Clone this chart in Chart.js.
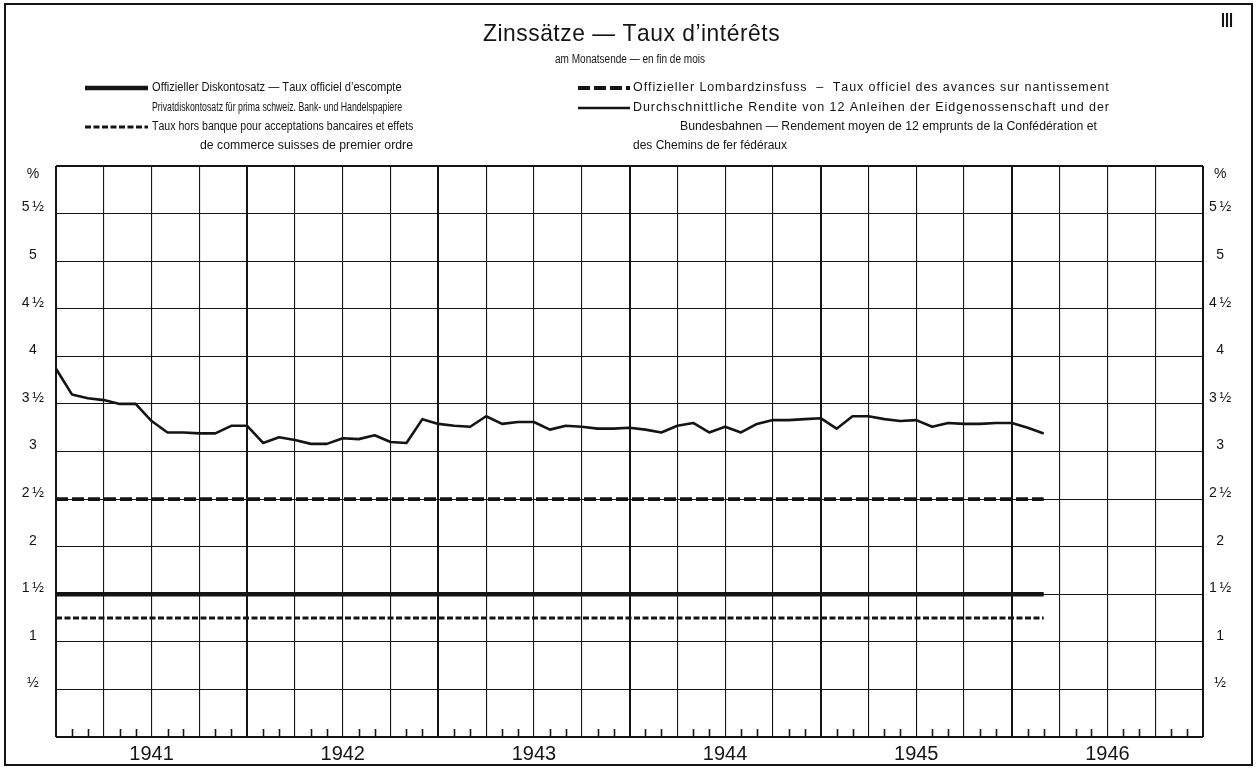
<!DOCTYPE html>
<html><head><meta charset="utf-8">
<script src="https://cdn.jsdelivr.net/npm/chart.js@4.4.1/dist/chart.umd.min.js"></script>
<style>html,body{margin:0;padding:0;background:#fff;}#wrap{width:1260px;height:769px;position:relative;}</style>
</head><body><div id="wrap"><canvas id="c" width="1260" height="769"></canvas></div>
<script>
// ---- data ----
const years = ['1941', '1942', '1943', '1944', '1945', '1946'];
const monthNames = ['Jan', 'Feb', 'Mär', 'Apr', 'Mai', 'Jun', 'Jul', 'Aug', 'Sep', 'Okt', 'Nov', 'Dez'];
// month ends from Dec 1940 to Dec 1946
const months = ['Dez 1940'];
years.forEach(y => monthNames.forEach(m => months.push(m + ' ' + y)));

const yTickValues = [0.5, 1, 1.5, 2, 2.5, 3, 3.5, 4, 4.5, 5, 5.5];
const yTickLabels = ['½', '1', '1\u2009½', '2', '2\u2009½', '3', '3\u2009½', '4', '4\u2009½', '5', '5\u2009½'];
const unitLabel = '%';

// Offizieller Diskontosatz (Dec 1940 .. Feb 1946)
const discountRate = [1.5, 1.5, 1.5, 1.5, 1.5, 1.5, 1.5, 1.5, 1.5, 1.5, 1.5, 1.5, 1.5,
  1.5, 1.5, 1.5, 1.5, 1.5, 1.5, 1.5, 1.5, 1.5, 1.5, 1.5, 1.5,
  1.5, 1.5, 1.5, 1.5, 1.5, 1.5, 1.5, 1.5, 1.5, 1.5, 1.5, 1.5,
  1.5, 1.5, 1.5, 1.5, 1.5, 1.5, 1.5, 1.5, 1.5, 1.5, 1.5, 1.5,
  1.5, 1.5, 1.5, 1.5, 1.5, 1.5, 1.5, 1.5, 1.5, 1.5, 1.5, 1.5, 1.5, 1.5];
// Offizieller Lombardzinsfuss
const lombardRate = [2.5, 2.5, 2.5, 2.5, 2.5, 2.5, 2.5, 2.5, 2.5, 2.5, 2.5, 2.5, 2.5,
  2.5, 2.5, 2.5, 2.5, 2.5, 2.5, 2.5, 2.5, 2.5, 2.5, 2.5, 2.5,
  2.5, 2.5, 2.5, 2.5, 2.5, 2.5, 2.5, 2.5, 2.5, 2.5, 2.5, 2.5,
  2.5, 2.5, 2.5, 2.5, 2.5, 2.5, 2.5, 2.5, 2.5, 2.5, 2.5, 2.5,
  2.5, 2.5, 2.5, 2.5, 2.5, 2.5, 2.5, 2.5, 2.5, 2.5, 2.5, 2.5, 2.5, 2.5];
// Privatdiskontosatz
const privateRate = [1.25, 1.25, 1.25, 1.25, 1.25, 1.25, 1.25, 1.25, 1.25, 1.25, 1.25, 1.25, 1.25,
  1.25, 1.25, 1.25, 1.25, 1.25, 1.25, 1.25, 1.25, 1.25, 1.25, 1.25, 1.25,
  1.25, 1.25, 1.25, 1.25, 1.25, 1.25, 1.25, 1.25, 1.25, 1.25, 1.25, 1.25,
  1.25, 1.25, 1.25, 1.25, 1.25, 1.25, 1.25, 1.25, 1.25, 1.25, 1.25, 1.25,
  1.25, 1.25, 1.25, 1.25, 1.25, 1.25, 1.25, 1.25, 1.25, 1.25, 1.25, 1.25, 1.25, 1.25];
// Durchschnittliche Rendite von 12 Anleihen
const bondYield = [3.87, 3.60, 3.56, 3.54, 3.50, 3.50, 3.32, 3.20, 3.20, 3.19, 3.19, 3.27, 3.27,
  3.09, 3.15, 3.12, 3.08, 3.08, 3.14, 3.13, 3.17, 3.10, 3.09, 3.34, 3.29,
  3.27, 3.26, 3.37, 3.29, 3.31, 3.31, 3.23, 3.27, 3.26, 3.24, 3.24, 3.25,
  3.23, 3.20, 3.27, 3.30, 3.20, 3.26, 3.20, 3.29, 3.33, 3.33, 3.34, 3.35,
  3.24, 3.37, 3.37, 3.34, 3.32, 3.33, 3.26, 3.30, 3.29, 3.29, 3.30, 3.30, 3.25, 3.19];

const titleText = 'Zinssätze — Taux d\u2019intérêts';
const subtitleText = 'am Monatsende — en fin de mois';
const plateNo = 'III';
const legendLeft = [
  'Offizieller Diskontosatz — Taux officiel d\u2019escompte',
  'Privatdiskontosatz für prima schweiz. Bank- und Handelspapiere',
  'Taux hors banque pour acceptations bancaires et effets',
  'de commerce suisses de premier ordre'
];
const legendRight = [
  'Offizieller Lombardzinsfuss  –  Taux officiel des avances sur nantissement',
  'Durchschnittliche Rendite von 12 Anleihen der Eidgenossenschaft und der',
  'Bundesbahnen — Rendement moyen de 12 emprunts de la Confédération et',
  'des Chemins de fer fédéraux'
];

// ---- drawing ----
const INK = '#141414';
const TXT_FONT = '"Liberation Sans", Arial, sans-serif';

// text fitted to a width: glyphs narrowed only if needed (at most to w/m),
// otherwise natural glyphs with the spare room spread as letter spacing
function justText(ctx, text, x, y, w, font, maxK, align) {
  ctx.save();
  ctx.font = font;
  ctx.textBaseline = 'middle';
  ctx.textAlign = 'left';
  ctx.fillStyle = INK;
  const m = ctx.measureText(text).width;
  const k = Math.min(maxK, w / m);
  const chars = Array.from(text);
  const ls = chars.length > 1 ? (w - m * k) / (chars.length - 1) / k : 0;
  const x0 = align === 'center' ? x - w / 2 : x;
  ctx.translate(x0, y);
  ctx.scale(k, 1);
  let cx = 0;
  chars.forEach(ch => {
    if (ch !== ' ') ctx.fillText(ch, cx, 0);
    cx += ctx.measureText(ch).width + ls;
  });
  ctx.restore();
}

function sample(ctx, ds, x1, x2, y) {
  ctx.save();
  ctx.strokeStyle = INK;
  ctx.lineWidth = ds.borderWidth;
  ctx.setLineDash(ds.borderDash || []);
  ctx.lineCap = 'butt';
  ctx.beginPath(); ctx.moveTo(x1, y); ctx.lineTo(x2, y); ctx.stroke();
  ctx.restore();
}

const decor = {
  id: 'decor',
  beforeDraw(chart) {
    const ctx = chart.ctx;
    ctx.save(); ctx.fillStyle = '#fff'; ctx.fillRect(0, 0, chart.width, chart.height); ctx.restore();
  },
  afterDatasetsDraw(chart) {
    // monthly tick marks along the bottom axis, pointing inward
    const ctx = chart.ctx, xs = chart.scales.x, b = chart.chartArea.bottom;
    ctx.save();
    ctx.strokeStyle = INK; ctx.lineWidth = 1.6;
    for (let i = 1; i < months.length - 1; i++) {
      if (i % 3 === 0) continue;
      const px = Math.round(xs.getPixelForValue(i)) + 0.5;
      ctx.beginPath(); ctx.moveTo(px, b); ctx.lineTo(px, b - 8); ctx.stroke();
    }
    ctx.restore();
  },
  afterDraw(chart) {
    const ctx = chart.ctx;
    const ds = chart.data.datasets;
    const F = '12.5px ' + TXT_FONT;
    ctx.save();
    ctx.strokeStyle = INK; ctx.lineWidth = 2;
    ctx.strokeRect(5, 4, 1247, 761);
    ctx.restore();
    justText(ctx, titleText, 630, 34, 294, '500 24px ' + TXT_FONT, 0.95, 'center');
    justText(ctx, subtitleText, 630, 60, 150, '12px ' + TXT_FONT, 1, 'center');
    justText(ctx, plateNo, 1227, 21, 12, 'bold 20px ' + TXT_FONT, 1.3, 'center');
    // left legend
    sample(ctx, ds[0], 85, 148, 88);
    justText(ctx, legendLeft[0], 152, 88, 248, F, 1);
    justText(ctx, legendLeft[1], 152, 108, 250, F, 1);
    sample(ctx, ds[2], 85, 148, 127);
    justText(ctx, legendLeft[2], 152, 127, 260, F, 1);
    justText(ctx, legendLeft[3], 200, 146, 213, F, 1);
    // right legend
    sample(ctx, ds[1], 578, 630, 88);
    justText(ctx, legendRight[0], 633, 88, 474, F, 1);
    sample(ctx, ds[3], 578, 630, 108);
    justText(ctx, legendRight[1], 633, 108, 476, F, 1);
    justText(ctx, legendRight[2], 680, 127, 417, F, 1);
    justText(ctx, legendRight[3], 633, 146, 154, F, 1);
  }
};

function yTicks(scale) {
  const t = [{ value: 0 }];
  yTickValues.forEach(v => t.push({ value: v }));
  t.push({ value: 5.85 });
  t.push({ value: 6 });
  scale.ticks = t;
}
function yLabel(v) {
  if (v === 5.85) return unitLabel;
  const i = yTickValues.indexOf(v);
  return i >= 0 ? yTickLabels[i] : '';
}

new Chart(document.getElementById('c'), {
  type: 'line',
  data: {
    labels: months,
    datasets: [
      { label: legendLeft[0], data: discountRate, borderColor: INK, borderWidth: 4.5, pointRadius: 0, tension: 0, borderCapStyle: 'butt' },
      { label: legendRight[0], data: lombardRate, borderColor: INK, borderWidth: 3.8, borderDash: [12, 4], pointRadius: 0, tension: 0, borderCapStyle: 'butt' },
      { label: legendLeft[1], data: privateRate, borderColor: INK, borderWidth: 3, borderDash: [6, 2.5], pointRadius: 0, tension: 0, borderCapStyle: 'butt' },
      { label: legendRight[1], data: bondYield, borderColor: INK, borderWidth: 2.6, pointRadius: 0, tension: 0, borderJoinStyle: 'round' }
    ]
  },
  plugins: [decor],
  options: {
    responsive: false,
    animation: false,
    layout: { padding: { top: 166, left: 0, right: 0, bottom: 0 } },
    plugins: { legend: { display: false }, tooltip: { enabled: false }, title: { display: false } },
    scales: {
      x: {
        type: 'category',
        offset: false,
        afterFit(s) { s.height = 32; },
        border: { display: false },
        grid: {
          drawTicks: false,
          color: c => (c.index % 3 === 0 ? INK : 'rgba(0,0,0,0)'),
          lineWidth: c => (c.index % 12 === 0 ? 2 : 1.1)
        },
        ticks: {
          autoSkip: false, maxRotation: 0, minRotation: 0, padding: 5,
          color: INK,
          font: { family: '"Liberation Sans", Arial, sans-serif', size: 20 },
          callback: (v, i) => (i % 12 === 6 ? years[(i - 6) / 12] : '')
        }
      },
      y: {
        position: 'left', min: 0, max: 6,
        afterBuildTicks: yTicks,
        afterFit(s) { s.width = 56; },
        border: { display: false },
        grid: {
          drawTicks: false,
          color: c => (c.tick && c.tick.value === 5.85 ? 'rgba(0,0,0,0)' : INK),
          lineWidth: c => (c.tick && (c.tick.value === 0 || c.tick.value === 6) ? 2 : 1.1)
        },
        ticks: {
          crossAlign: 'center', padding: 12, labelOffset: -6, color: INK,
          font: { family: '"Liberation Sans", Arial, sans-serif', size: 14 },
          callback: yLabel
        }
      },
      y2: {
        position: 'right', min: 0, max: 6,
        afterBuildTicks: yTicks,
        afterFit(s) { s.width = 57; },
        border: { display: false },
        grid: { display: false, drawTicks: false },
        ticks: {
          crossAlign: 'center', padding: 6, labelOffset: -6, color: INK,
          font: { family: '"Liberation Sans", Arial, sans-serif', size: 14 },
          callback: yLabel
        }
      }
    }
  }
});
</script></body></html>
